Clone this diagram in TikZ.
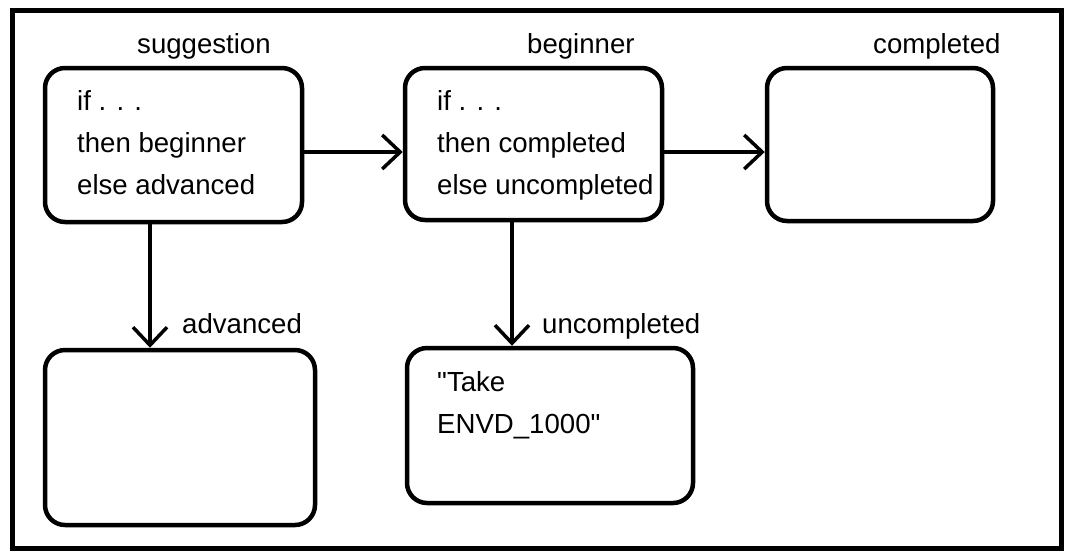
\documentclass[tikz,border=0pt]{standalone}
\usepackage{fontspec}
\setmainfont{Liberation Sans}[Ligatures=TeXOff]
\usetikzlibrary{arrows.meta}
\begin{document}
\begin{tikzpicture}[x=1pt,y=-1pt,
  box/.style={draw,line width=4.5pt,rounded corners=20pt,inner sep=0pt},
  txt/.style={inner sep=0pt,align=left,font=\fontsize{27.6}{42}\selectfont},
  lbl/.style={inner sep=0pt,anchor=base west,font=\fontsize{27.6}{33}\selectfont},
  arr/.style={line width=3.5pt,-{Straight Barb[length=18pt,width=34pt,line width=3.5pt]}}]
\useasboundingbox (0,0) rectangle (1067,558);
\draw[line width=5pt] (12,10) rectangle (1061,548);
\node[box,minimum width=257pt,minimum height=154pt] (b1) at (173.5,145) {};
\node[box,minimum width=257pt,minimum height=152pt] (b2) at (533.5,144) {};
\node[box,minimum width=226pt,minimum height=153pt] (b3) at (880,144.5) {};
\node[box,minimum width=270pt,minimum height=175pt] (b4) at (180,437.5) {};
\node[box,minimum width=286pt,minimum height=155pt] (b5) at (550,425.5) {};
\node[txt,anchor=north west] (t1) at (77,90) {if . . .\\then beginner\\else advanced};
\node[txt,anchor=north west] (t2) at (437,90) {if . . .\\then completed\\else uncompleted};
\node[txt,anchor=north west] (t5) at (437,371) {"Take\\ENVD\_1000"};
\node[lbl] (l1) at (137,53) {suggestion};
\node[lbl] (l2) at (527,53) {beginner};
\node[lbl] (l3) at (873,53) {completed};
\node[lbl] (l4) at (182,333) {advanced};
\node[lbl] (l5) at (542,333) {uncompleted};
\draw[arr] ([yshift=-7pt]b1.east) -- ([yshift=-7pt]b1.east -| b2.west);
\draw[arr] ([yshift=-8pt]b2.east) -- ([yshift=-8pt]b2.east -| b3.west);
\draw[arr] ([xshift=-23.5pt]b1.south) -- ([xshift=-23.5pt]b1.south |- b4.north);
\draw[arr] ([xshift=-21.5pt]b2.south) -- ([xshift=-21.5pt]b2.south |- b5.north);
\end{tikzpicture}
\end{document}
